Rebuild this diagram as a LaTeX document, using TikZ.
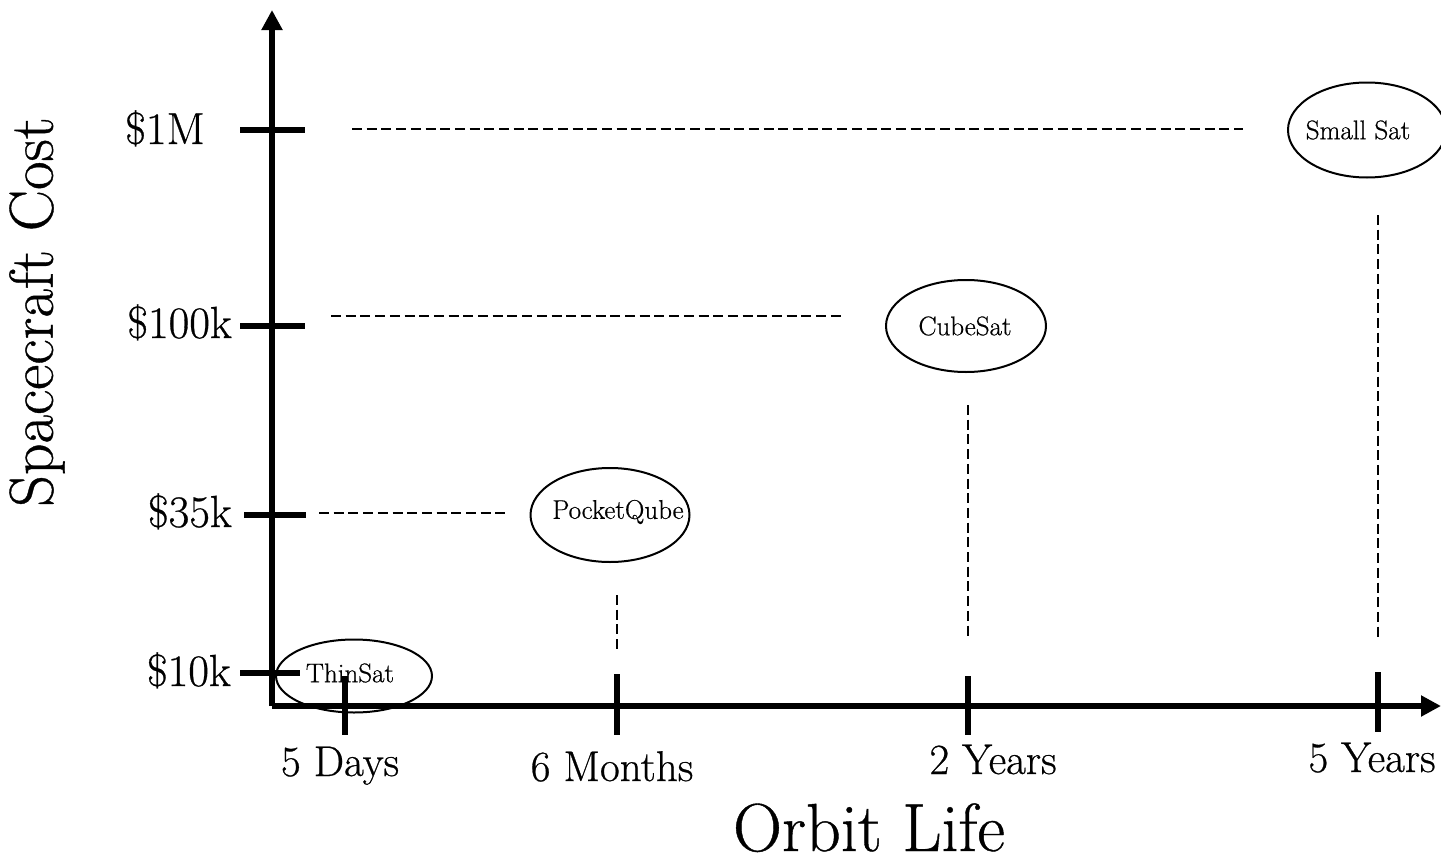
\documentclass[tikz,border=0pt]{standalone}
\usepackage{fontspec}
\setmainfont{Latin Modern Roman}[FakeBold=0.6]
\usetikzlibrary{shapes.geometric,arrows.meta}
\begin{document}
\begin{tikzpicture}[x=1pt,y=-1pt,
  axis/.style={line width=5.5pt},
  tick/.style={line width=5.5pt},
  guide/.style={line width=2.3pt,dash pattern=on 10pt off 4.7pt},
  sat/.style={draw,ellipse,line width=2pt,inner sep=0pt},
  satlab/.style={inner sep=0pt,font=\fontsize{27}{32}\selectfont},
  ylab/.style={anchor=base east,font=\fontsize{45}{54}\selectfont,inner sep=0pt},
  xlab/.style={anchor=base,font=\fontsize{43}{52}\selectfont,inner sep=0pt}]
\useasboundingbox (0,0) rectangle (1441,862);
% axes
\coordinate (O) at (272,706);
\coordinate (ytop) at (272,10);
\coordinate (xend) at (1441,706);
\draw[axis,-{Triangle[length=20pt,width=20pt]}] (O) -- (ytop);
\draw[axis,-{Triangle[length=20pt,width=20pt]}] (O) -- (xend);
% y ticks
\coordinate (t1a) at (240,130); \coordinate (t1b) at (305,130);
\coordinate (t2a) at (240,326); \coordinate (t2b) at (305,326);
\coordinate (t3a) at (244,515); \coordinate (t3b) at (306,515);
\coordinate (t4a) at (240,673); \coordinate (t4b) at (300,673);
\draw[tick] (t1a) -- (t1b);
\draw[tick] (t2a) -- (t2b);
\draw[tick] (t3a) -- (t3b);
\draw[tick] (t4a) -- (t4b);
% x ticks
\coordinate (u1a) at (345,676); \coordinate (u1b) at (345,735);
\coordinate (u2a) at (617,674); \coordinate (u2b) at (617,735);
\coordinate (u3a) at (968,676); \coordinate (u3b) at (968,735);
\coordinate (u4a) at (1378,672); \coordinate (u4b) at (1378,732);
\draw[tick] (u1a) -- (u1b);
\draw[tick] (u2a) -- (u2b);
\draw[tick] (u3a) -- (u3b);
\draw[tick] (u4a) -- (u4b);
% y labels
\node[ylab] (l1) at (205,144) {\$1M};
\node[ylab] (l2) at (232,338) {\$100k};
\node[ylab] (l3) at (232,527) {\$35k};
\node[ylab] (l4) at (231,686) {\$10k};
% x labels
\node[xlab] (d1) at (340,776) {5 Days};
\node[xlab] (d2) at (612,781) {6 Months};
\node[xlab] (d3) at (993,774) {2 Years};
\node[xlab] (d4) at (1372,772) {5 Years};
% axis titles
\node[anchor=base,font=\fontsize{68}{78}\selectfont,inner sep=0pt] (xt) at (869,851) {Orbit Life};
\node[rotate=90,font=\fontsize{62}{70}\selectfont,inner sep=0pt] (yt) at (37,312) {Spacecraft Cost};
% satellites
\node[sat,minimum width=156pt,minimum height=73pt] (thin) at (354,676) {};
\node[satlab] (thinT) at (350,673) {ThinSat};
\node[sat,minimum width=159pt,minimum height=94pt] (pq) at (610,515) {};
\node[satlab] (pqT) at (618,512) {PocketQube};
\node[sat,minimum width=160pt,minimum height=92pt] (cube) at (966,326) {};
\node[satlab] (cubeT) at (965,326) {CubeSat};
\node[sat,minimum width=158pt,minimum height=95pt] (small) at (1367,130) {};
\node[satlab] (smallT) at (1358,130) {Small Sat};
% guides
\coordinate (g1a) at (352,129); \coordinate (g1b) at (1243,129);
\coordinate (g2a) at (331,316); \coordinate (g2b) at (843,316);
\coordinate (g3a) at (319,513); \coordinate (g3b) at (507,513);
\coordinate (v1a) at (617,595); \coordinate (v1b) at (617,650);
\coordinate (v2a) at (968,405); \coordinate (v2b) at (968,636);
\coordinate (v3a) at (1378,215); \coordinate (v3b) at (1378,638);
\draw[guide] (g1a) -- (g1b);
\draw[guide] (g2a) -- (g2b);
\draw[guide] (g3a) -- (g3b);
\draw[guide] (v1a) -- (v1b);
\draw[guide] (v2a) -- (v2b);
\draw[guide] (v3a) -- (v3b);
\end{tikzpicture}
\end{document}
